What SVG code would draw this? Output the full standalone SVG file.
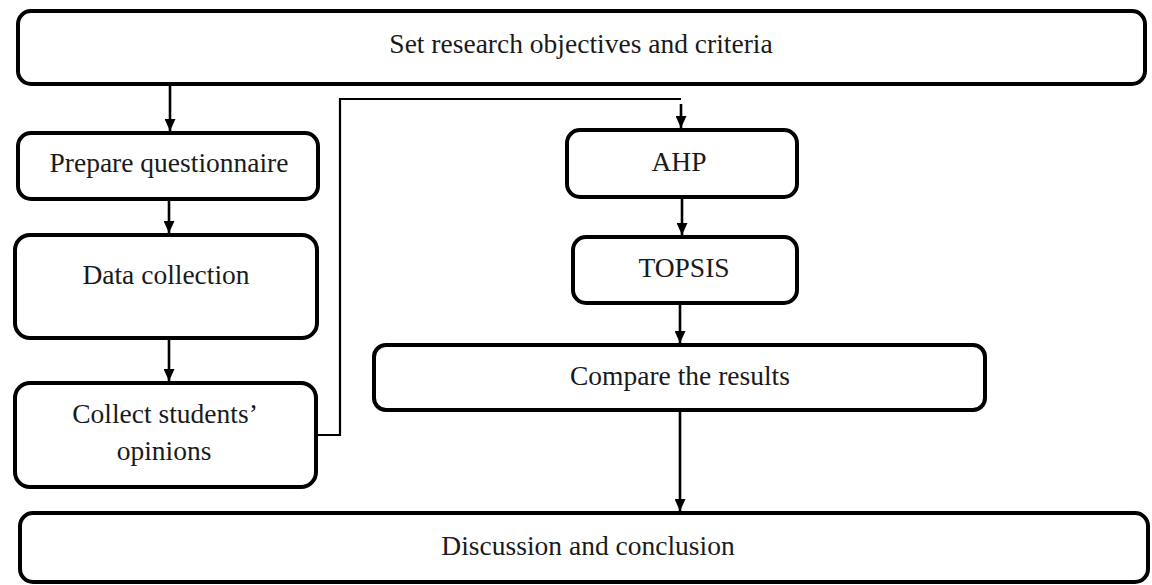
<svg xmlns="http://www.w3.org/2000/svg" width="1152" height="585" viewBox="0 0 1152 585">
<style>
.box{fill:#fff;stroke:#000;stroke-width:4}
.lbl{font-family:"Liberation Serif","Times New Roman",serif;font-size:27.5px;fill:#1a1a1a;text-anchor:middle}
.ln{fill:none;stroke:#000;stroke-width:2.6}
.el{fill:none;stroke:#000;stroke-width:2.2}
</style>
<defs>
<marker id="ah" viewBox="0 0 12 11" refX="12" refY="5.5" markerWidth="12" markerHeight="11" markerUnits="userSpaceOnUse" orient="auto">
<path d="M0,0 L12,5.5 L0,11 z" fill="#000"/>
</marker>
</defs>
<rect width="1152" height="585" fill="#fff"/>
<g id="connectors">
<path class="ln" d="M170,86 V131" marker-end="url(#ah)"/>
<path class="ln" d="M169,201 V233" marker-end="url(#ah)"/>
<path class="ln" d="M169,340 V381" marker-end="url(#ah)"/>
<path class="el" d="M316,435 H340 V99 H681"/>
<path class="ln" d="M681,104 V128" marker-end="url(#ah)"/>
<path class="ln" d="M682,199 V235" marker-end="url(#ah)"/>
<path class="ln" d="M680,305 V343" marker-end="url(#ah)"/>
<path class="ln" d="M680,412 V511" marker-end="url(#ah)"/>
</g>
<g id="n-objectives">
<rect class="box" x="18" y="11" width="1127" height="73" rx="13"/>
<text class="lbl" x="581" y="53">Set research objectives and criteria</text>
</g>
<g id="n-questionnaire">
<rect class="box" x="18" y="133" width="300" height="66" rx="13"/>
<text class="lbl" x="169" y="172">Prepare questionnaire</text>
</g>
<g id="n-data">
<rect class="box" x="15" y="235" width="302" height="103" rx="15"/>
<text class="lbl" x="166" y="284">Data collection</text>
</g>
<g id="n-opinions">
<rect class="box" x="15" y="383" width="301" height="104" rx="15"/>
<text class="lbl" x="165" y="423">Collect students’</text>
<text class="lbl" x="164" y="460">opinions</text>
</g>
<g id="n-ahp">
<rect class="box" x="567" y="130" width="230" height="67" rx="13"/>
<text class="lbl" x="679" y="171">AHP</text>
</g>
<g id="n-topsis">
<rect class="box" x="573" y="237" width="224" height="66" rx="13"/>
<text class="lbl" x="684" y="277">TOPSIS</text>
</g>
<g id="n-compare">
<rect class="box" x="374" y="345" width="611" height="65" rx="12"/>
<text class="lbl" x="680" y="385">Compare the results</text>
</g>
<g id="n-discussion">
<rect class="box" x="20" y="513" width="1128" height="69" rx="13"/>
<text class="lbl" x="588" y="555">Discussion and conclusion</text>
</g>
</svg>
